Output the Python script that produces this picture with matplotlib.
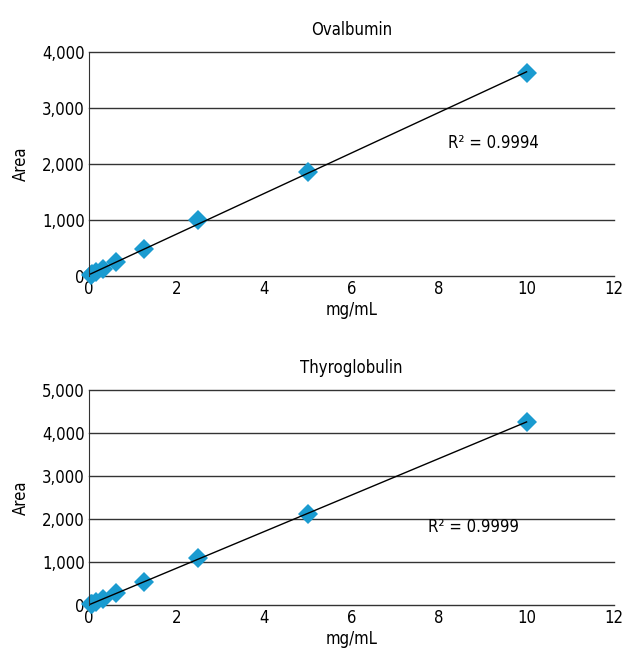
import numpy as np
import matplotlib
matplotlib.use("Agg")
import matplotlib.pyplot as plt

plt.rcParams['font.family'] = ['DejaVu Sans']
plt.rcParams['font.stretch'] = 'condensed'

conc = [0.039, 0.078, 0.156, 0.3125, 0.625, 1.25, 2.5, 5.0, 10.0]
ovalbumin = [15, 30, 60, 120, 240, 480, 990, 1860, 3620]
thyroglobulin = [17, 35, 70, 140, 270, 540, 1090, 2110, 4260]

panels = [
    ("Ovalbumin", ovalbumin, "R² = 0.9994", 4000, (8.2, 2380)),
    ("Thyroglobulin", thyroglobulin, "R² = 0.9999", 5000, (7.75, 1820)),
]

fig = plt.figure(figsize=(6.26, 6.52), dpi=100)
rects = [[0.142, 0.577, 0.839, 0.343], [0.142, 0.072, 0.839, 0.330]]

for (title, vals, r2, ymax, r2pos), rect in zip(panels, rects):
    ax = fig.add_axes(rect)
    x = np.array(conc)
    y = np.array(vals)
    k, b = np.polyfit(x, y, 1)
    xs = np.array([x.min(), x.max()])
    ax.plot(xs, k * xs + b, color='black', lw=1, zorder=3)
    ax.plot(x, y, 'D', color='#1a9bd0', markersize=10, markeredgewidth=0,
            zorder=2, clip_on=False)
    ax.set_xlim(0, 12)
    ax.set_ylim(0, ymax)
    ax.set_xticks(range(0, 13, 2))
    ax.set_yticks(range(0, ymax + 1, 1000))
    ax.set_yticklabels([f"{v:,}" for v in range(0, ymax + 1, 1000)])
    ax.grid(axis='y', color='#333333', lw=1)
    for gl in ax.get_ygridlines():
        gl.set_clip_on(False)
    ax.set_axisbelow(True)
    for s in ['top', 'right', 'bottom']:
        ax.spines[s].set_visible(False)
    ax.spines['left'].set_color('#333333')
    ax.tick_params(length=0, labelsize=12, pad=3)
    ax.set_xlabel("mg/mL", fontsize=12, labelpad=2)
    ax.set_ylabel("Area", fontsize=12, labelpad=9)
    ax.set_title(title, fontsize=12, pad=12)
    ax.text(r2pos[0], r2pos[1], r2, fontsize=12, va='center', ha='left')

fig.savefig("out.png", dpi=100)
